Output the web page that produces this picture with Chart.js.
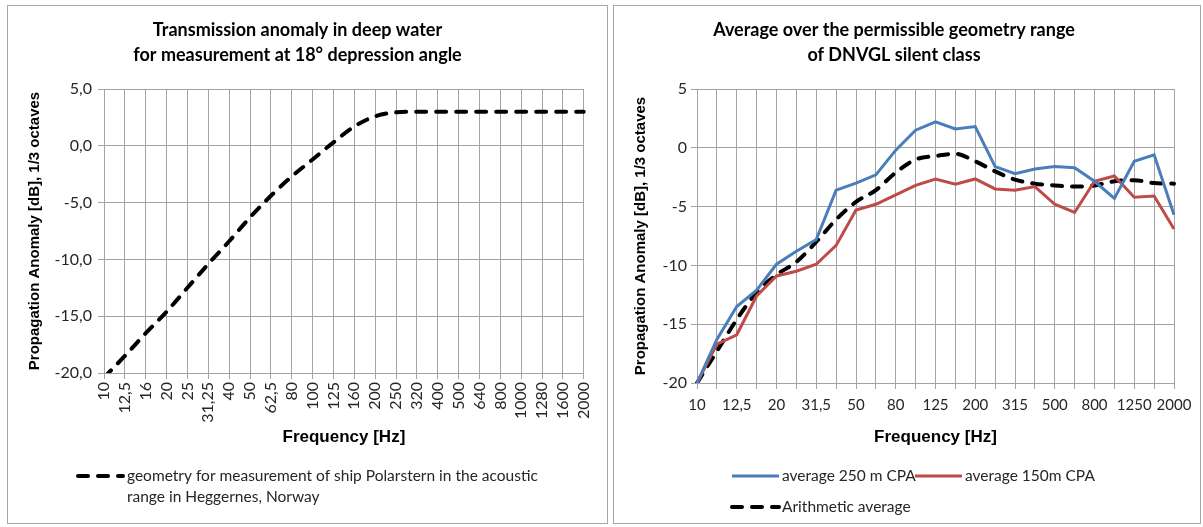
<!DOCTYPE html>
<html>
<head>
<meta charset="utf-8">
<script src="https://cdn.jsdelivr.net/npm/chart.js@4.4.1/dist/chart.umd.min.js"></script>
<style>
  html, body { margin: 0; padding: 0; background: #fff; width: 1203px; height: 527px; overflow: hidden; }
  .panel { position: absolute; border: 1px solid #a6a6a6; box-sizing: border-box; background: #fff; }
  #panelL { left: 7px; top: 5px; width: 601px; height: 519px; }
  #panelR { left: 613px; top: 5px; width: 588px; height: 519px; }
  canvas { position: absolute; }
  #chartL { left: 8px; top: 6px; }
  #chartR { left: 614px; top: 6px; }
</style>
</head>
<body>
<div class="panel" id="panelL"></div>
<div class="panel" id="panelR"></div>
<canvas id="chartL" width="598" height="516"></canvas>
<canvas id="chartR" width="585" height="516"></canvas>
<script>
// ---- Left chart: transmission anomaly for an 18° depression angle ----
const FREQ_L = ['10', '12,5', '16', '20', '25', '31,25', '40', '50', '62,5', '80', '100', '125',
                '160', '200', '250', '320', '400', '500', '640', '800', '1000', '1280', '1600', '2000'];
const ANOMALY_L = [-20.4, -18.5, -16.5, -14.6, -12.5, -10.4, -8.4, -6.3, -4.4, -2.7, -1.2, 0.3,
                   1.7, 2.6, 2.95, 3.0, 3.0, 3.0, 3.0, 3.0, 3.0, 3.0, 3.0, 3.0];
const Y_TICKS_L = [-20, -15, -10, -5, 0, 5];
const TITLE_L = ['Transmission anomaly in deep water', 'for measurement at 18° depression angle'];
const KEY_L = ['geometry for measurement of ship Polarstern in the acoustic', 'range in Heggernes, Norway'];

// ---- Right chart: averages over the DNVGL silent class geometry range ----
const FREQ_R = ['10', '11,2', '12,5', '16', '20', '25', '31,5', '40', '50', '63', '80', '100', '125',
                '160', '200', '250', '315', '400', '500', '630', '800', '1000', '1250', '1600', '2000'];
const AVG_250 = [-20, -16.3, -13.5, -12.1, -9.9, -8.8, -7.8, -3.6, -3.0, -2.3, -0.2, 1.5, 2.2,
                 1.6, 1.8, -1.6, -2.2, -1.8, -1.6, -1.7, -2.85, -4.3, -1.15, -0.6, -5.7];
const AVG_150 = [-20, -16.7, -15.9, -12.6, -10.9, -10.5, -9.9, -8.3, -5.3, -4.8, -4.0, -3.2, -2.65,
                 -3.1, -2.65, -3.5, -3.6, -3.3, -4.8, -5.5, -2.85, -2.4, -4.2, -4.1, -6.9];
const ARITH_AVG = [-20, -17.3, -14.6, -12.3, -10.8, -9.7, -8.0, -6.1, -4.6, -3.6, -2.1, -1.0, -0.7,
                   -0.5, -1.15, -2.0, -2.7, -3.05, -3.2, -3.3, -3.2, -2.85, -2.75, -3.0, -3.05];
const Y_TICKS_R = [-20, -15, -10, -5, 0, 5];
const TITLE_R = ['Average over the permissible geometry range', 'of DNVGL silent class'];
const KEY_R = ['average 250 m CPA', 'average 150m CPA', 'Arithmetic average'];

const Y_TITLE = 'Propagation Anomaly [dB], 1/3 octaves';
const X_TITLE = 'Frequency [Hz]';

const BODY_FONT = "Lato, 'Open Sans', sans-serif";
const AXIS_FONT = "'Liberation Sans Narrow', 'Liberation Sans', Arial, sans-serif";
const GRID = '#a3a3a3';
const TEXT = '#262626';

Chart.defaults.font.family = BODY_FONT;
Chart.defaults.color = TEXT;

// Draws the series key below each chart, reading style and text from the datasets
const seriesKey = {
  id: 'seriesKey',
  afterDraw(chart, args, opts) {
    const ctx = chart.ctx;
    ctx.save();
    ctx.font = opts.font;
    ctx.fillStyle = opts.color;
    ctx.textBaseline = 'middle';
    ctx.textAlign = 'left';
    opts.items.forEach(it => {
      const ds = chart.data.datasets[it.dataset];
      ctx.save();
      ctx.strokeStyle = ds.borderColor;
      ctx.lineWidth = ds.borderWidth;
      ctx.setLineDash(ds.borderDash || []);
      ctx.lineCap = ds.borderCapStyle || 'butt';
      ctx.beginPath();
      ctx.moveTo(it.x, it.y);
      ctx.lineTo(it.x + opts.sampleLength, it.y);
      ctx.stroke();
      ctx.restore();
      const lines = Array.isArray(ds.label) ? ds.label : [ds.label];
      lines.forEach((t, k) => ctx.fillText(t, it.x + opts.sampleLength + opts.gap, it.y + k * opts.lineHeight));
    });
    ctx.restore();
  }
};

function yAxis(tickValues, fmt, width, labelPad) {
  return {
    type: 'linear',
    min: -20, max: 5,
    afterBuildTicks: s => { s.ticks = tickValues.map(v => ({ value: v })); },
    afterFit: s => { s.width = width; },
    grid: { color: GRID, lineWidth: 1, tickLength: 6, tickColor: GRID, drawTicks: true },
    border: { color: GRID, width: 1 },
    ticks: { callback: fmt, padding: labelPad, color: TEXT, font: { family: BODY_FONT, size: 16 } },
    title: { display: true, text: Y_TITLE, color: '#000', padding: { top: 18, bottom: 0 },
             font: { family: AXIS_FONT, size: 15, weight: 'bold', lineHeight: '18px' } }
  };
}

function titleOpts(lines) {
  return {
    display: true, text: lines, color: '#000',
    font: { family: BODY_FONT, size: 18, weight: 'bold', lineHeight: '25px' },
    padding: { top: 12, bottom: 21 }
  };
}

const dashed = { borderColor: '#000', borderWidth: 4, borderDash: [10, 10], borderCapStyle: 'round',
                 pointRadius: 0, cubicInterpolationMode: 'monotone', fill: false };

// Left chart
new Chart(document.getElementById('chartL'), {
  type: 'line',
  data: {
    labels: FREQ_L,
    datasets: [Object.assign({ label: KEY_L, data: ANOMALY_L }, dashed)]
  },
  plugins: [seriesKey],
  options: {
    responsive: false, animation: false, devicePixelRatio: 1,
    layout: { padding: { left: 0, right: 19, top: 0, bottom: 73 } },
    scales: {
      x: {
        type: 'category', offset: false,
        afterFit: s => { s.height = 76; },
        grid: { color: GRID, lineWidth: 1, tickLength: 6, tickColor: GRID, drawTicks: true },
        border: { color: GRID, width: 1 },
        ticks: { autoSkip: false, minRotation: 90, maxRotation: 90, padding: 3, color: TEXT,
                 font: { family: BODY_FONT, size: 16 } },
        title: { display: true, text: X_TITLE, color: '#000', padding: { top: 0, bottom: 3 },
                 font: { family: AXIS_FONT, size: 17, weight: 'bold', lineHeight: '18px' } }
      },
      y: yAxis(Y_TICKS_L, v => v.toFixed(1).replace('.', ','), 96, 6)
    },
    plugins: {
      legend: { display: false },
      tooltip: { enabled: false },
      title: titleOpts(TITLE_L),
      seriesKey: { font: "15.5px " + BODY_FONT, color: TEXT, sampleLength: 45, gap: 4, lineHeight: 21,
                   items: [{ dataset: 0, x: 70, y: 470 }] }
    }
  }
});

// Right chart
new Chart(document.getElementById('chartR'), {
  type: 'line',
  data: {
    labels: FREQ_R,
    datasets: [
      { label: KEY_R[0], data: AVG_250, borderColor: '#4a7ebb', borderWidth: 3, pointRadius: 0, tension: 0, fill: false },
      { label: KEY_R[1], data: AVG_150, borderColor: '#be4b48', borderWidth: 3, pointRadius: 0, tension: 0, fill: false },
      Object.assign({ label: KEY_R[2], data: ARITH_AVG }, dashed)
    ]
  },
  plugins: [seriesKey],
  options: {
    responsive: false, animation: false, devicePixelRatio: 1,
    layout: { padding: { left: 0, right: 25, top: 0, bottom: 69 } },
    scales: {
      x: {
        type: 'category', offset: false,
        afterFit: s => { s.height = 70; },
        grid: { color: GRID, lineWidth: 1, tickLength: 6, tickColor: GRID, drawTicks: true },
        border: { color: GRID, width: 1 },
        ticks: { autoSkip: false, minRotation: 0, maxRotation: 0, padding: 7, color: TEXT,
                 font: { family: BODY_FONT, size: 15 },
                 callback: (v, i) => (i % 2 === 0 ? FREQ_R[i] : '') },
        title: { display: true, text: X_TITLE, color: '#000', padding: { top: 0, bottom: 7 },
                 font: { family: AXIS_FONT, size: 17, weight: 'bold', lineHeight: '18px' } }
      },
      y: yAxis(Y_TICKS_R, v => String(v), 83, 4)
    },
    plugins: {
      legend: { display: false },
      tooltip: { enabled: false },
      title: titleOpts(TITLE_R),
      seriesKey: { font: "15.5px " + BODY_FONT, color: TEXT, sampleLength: 47, gap: 3, lineHeight: 21,
                   items: [{ dataset: 0, x: 118, y: 470 }, { dataset: 1, x: 301, y: 470 }, { dataset: 2, x: 118, y: 501 }] }
    }
  }
});
</script>
</body>
</html>
